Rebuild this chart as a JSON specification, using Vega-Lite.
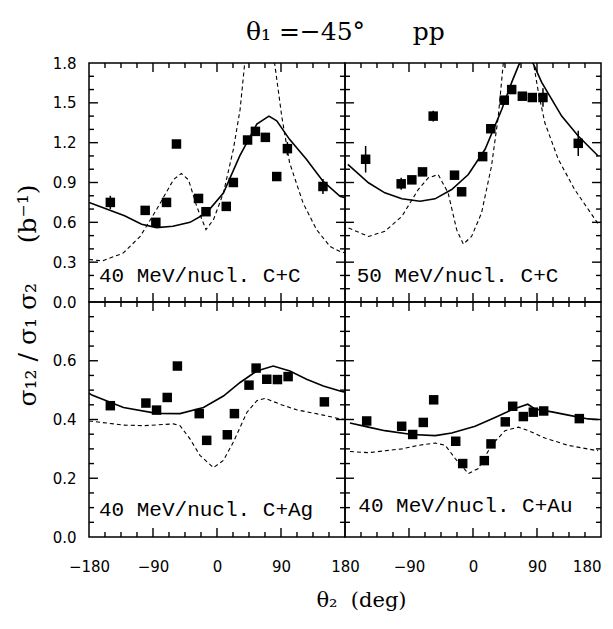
{
  "$schema": "https://vega.github.io/schema/vega-lite/v6.json",
  "padding": {"left": 14, "top": 20, "right": 1, "bottom": 14},
  "background": "white",
  "title": {"text": "θ₁ =−45°\u00a0\u00a0\u00a0\u00a0\u00a0\u00a0pp", "font": "DejaVu Serif", "fontSize": 25, "fontWeight": "normal", "color": "black", "anchor": "middle", "offset": 10, "dx": 37},
  "datasets": {
    "xt": [
      {"t": -157.5, "maj": 0}, {"t": -135, "maj": 0}, {"t": -112.5, "maj": 0}, {"t": -90, "maj": 1},
      {"t": -67.5, "maj": 0}, {"t": -45, "maj": 0}, {"t": -22.5, "maj": 0}, {"t": 0, "maj": 1},
      {"t": 22.5, "maj": 0}, {"t": 45, "maj": 0}, {"t": 67.5, "maj": 0}, {"t": 90, "maj": 1},
      {"t": 112.5, "maj": 0}, {"t": 135, "maj": 0}, {"t": 157.5, "maj": 0}
    ],
    "yt1": [
      {"v": 0.1, "maj": 0}, {"v": 0.2, "maj": 0}, {"v": 0.3, "maj": 1}, {"v": 0.4, "maj": 0}, {"v": 0.5, "maj": 0},
      {"v": 0.6, "maj": 1}, {"v": 0.7, "maj": 0}, {"v": 0.8, "maj": 0}, {"v": 0.9, "maj": 1}, {"v": 1.0, "maj": 0},
      {"v": 1.1, "maj": 0}, {"v": 1.2, "maj": 1}, {"v": 1.3, "maj": 0}, {"v": 1.4, "maj": 0}, {"v": 1.5, "maj": 1},
      {"v": 1.6, "maj": 0}, {"v": 1.7, "maj": 0}
    ],
    "yt2": [
      {"v": 0.05, "maj": 0}, {"v": 0.1, "maj": 0}, {"v": 0.15, "maj": 0}, {"v": 0.2, "maj": 1}, {"v": 0.25, "maj": 0},
      {"v": 0.3, "maj": 0}, {"v": 0.35, "maj": 0}, {"v": 0.4, "maj": 1}, {"v": 0.45, "maj": 0}, {"v": 0.5, "maj": 0},
      {"v": 0.55, "maj": 0}, {"v": 0.6, "maj": 1}, {"v": 0.65, "maj": 0}, {"v": 0.7, "maj": 0}, {"v": 0.75, "maj": 0}
    ],
    "pts": [
      {"p": "A", "t": -150, "v": 0.75, "e": 0.05},
      {"p": "A", "t": -101, "v": 0.69, "e": 0},
      {"p": "A", "t": -86, "v": 0.6, "e": 0},
      {"p": "A", "t": -71, "v": 0.75, "e": 0},
      {"p": "A", "t": -57, "v": 1.19, "e": 0},
      {"p": "A", "t": -26, "v": 0.78, "e": 0},
      {"p": "A", "t": -15.5, "v": 0.68, "e": 0},
      {"p": "A", "t": 13, "v": 0.72, "e": 0},
      {"p": "A", "t": 23, "v": 0.9, "e": 0},
      {"p": "A", "t": 43, "v": 1.22, "e": 0},
      {"p": "A", "t": 54, "v": 1.285, "e": 0},
      {"p": "A", "t": 68, "v": 1.24, "e": 0},
      {"p": "A", "t": 84, "v": 0.945, "e": 0},
      {"p": "A", "t": 99, "v": 1.155, "e": 0.05},
      {"p": "A", "t": 149, "v": 0.87, "e": 0.057},
      {"p": "B", "t": -151, "v": 1.075, "e": 0.1},
      {"p": "B", "t": -101, "v": 0.89, "e": 0.045},
      {"p": "B", "t": -86, "v": 0.92, "e": 0},
      {"p": "B", "t": -71, "v": 0.98, "e": 0},
      {"p": "B", "t": -56, "v": 1.4, "e": 0.04},
      {"p": "B", "t": -26, "v": 0.955, "e": 0},
      {"p": "B", "t": -16, "v": 0.83, "e": 0},
      {"p": "B", "t": 13.6, "v": 1.095, "e": 0},
      {"p": "B", "t": 25, "v": 1.305, "e": 0},
      {"p": "B", "t": 44, "v": 1.52, "e": 0},
      {"p": "B", "t": 54.4, "v": 1.6, "e": 0},
      {"p": "B", "t": 69.4, "v": 1.55, "e": 0},
      {"p": "B", "t": 83.4, "v": 1.54, "e": 0},
      {"p": "B", "t": 98.4, "v": 1.54, "e": 0.07},
      {"p": "B", "t": 148, "v": 1.195, "e": 0.095},
      {"p": "C", "t": -150, "v": 0.447, "e": 0},
      {"p": "C", "t": -100, "v": 0.456, "e": 0},
      {"p": "C", "t": -85, "v": 0.432, "e": 0},
      {"p": "C", "t": -70, "v": 0.475, "e": 0},
      {"p": "C", "t": -55.7, "v": 0.582, "e": 0},
      {"p": "C", "t": -25, "v": 0.42, "e": 0},
      {"p": "C", "t": -14.5, "v": 0.329, "e": 0},
      {"p": "C", "t": 14.5, "v": 0.348, "e": 0},
      {"p": "C", "t": 24.5, "v": 0.42, "e": 0},
      {"p": "C", "t": 45, "v": 0.517, "e": 0},
      {"p": "C", "t": 55, "v": 0.575, "e": 0},
      {"p": "C", "t": 70, "v": 0.537, "e": 0},
      {"p": "C", "t": 85, "v": 0.536, "e": 0},
      {"p": "C", "t": 100, "v": 0.546, "e": 0},
      {"p": "C", "t": 151, "v": 0.46, "e": 0},
      {"p": "D", "t": -149.5, "v": 0.395, "e": 0},
      {"p": "D", "t": -100.3, "v": 0.377, "e": 0},
      {"p": "D", "t": -84.8, "v": 0.349, "e": 0},
      {"p": "D", "t": -69.9, "v": 0.39, "e": 0},
      {"p": "D", "t": -55.3, "v": 0.467, "e": 0},
      {"p": "D", "t": -24.3, "v": 0.326, "e": 0},
      {"p": "D", "t": -14.5, "v": 0.25, "e": 0},
      {"p": "D", "t": 15.9, "v": 0.26, "e": 0},
      {"p": "D", "t": 25.3, "v": 0.317, "e": 0},
      {"p": "D", "t": 45.4, "v": 0.392, "e": 0},
      {"p": "D", "t": 55.8, "v": 0.445, "e": 0},
      {"p": "D", "t": 70.8, "v": 0.41, "e": 0},
      {"p": "D", "t": 84.8, "v": 0.425, "e": 0},
      {"p": "D", "t": 99.4, "v": 0.429, "e": 0},
      {"p": "D", "t": 149.5, "v": 0.403, "e": 0}
    ],
    "curves": [
      {"p": "A", "k": "s", "t": -180, "v": 0.75},
      {"p": "A", "k": "s", "t": -160, "v": 0.71},
      {"p": "A", "k": "s", "t": -130, "v": 0.65},
      {"p": "A", "k": "s", "t": -106, "v": 0.585},
      {"p": "A", "k": "s", "t": -85, "v": 0.56},
      {"p": "A", "k": "s", "t": -62, "v": 0.57},
      {"p": "A", "k": "s", "t": -38, "v": 0.6},
      {"p": "A", "k": "s", "t": -15, "v": 0.67},
      {"p": "A", "k": "s", "t": 9, "v": 0.82},
      {"p": "A", "k": "s", "t": 32, "v": 1.1},
      {"p": "A", "k": "s", "t": 56, "v": 1.34},
      {"p": "A", "k": "s", "t": 73, "v": 1.4},
      {"p": "A", "k": "s", "t": 84, "v": 1.365},
      {"p": "A", "k": "s", "t": 102, "v": 1.225},
      {"p": "A", "k": "s", "t": 126, "v": 1.074},
      {"p": "A", "k": "s", "t": 149, "v": 0.91},
      {"p": "A", "k": "s", "t": 173, "v": 0.796},
      {"p": "A", "k": "s", "t": 180, "v": 0.785},
      {"p": "A", "k": "d", "t": -180, "v": 0.32},
      {"p": "A", "k": "d", "t": -161, "v": 0.31},
      {"p": "A", "k": "d", "t": -132, "v": 0.368},
      {"p": "A", "k": "d", "t": -108, "v": 0.494},
      {"p": "A", "k": "d", "t": -85, "v": 0.696},
      {"p": "A", "k": "d", "t": -61, "v": 0.923},
      {"p": "A", "k": "d", "t": -50, "v": 0.968},
      {"p": "A", "k": "d", "t": -40, "v": 0.92},
      {"p": "A", "k": "d", "t": -28.5, "v": 0.72},
      {"p": "A", "k": "d", "t": -15.5, "v": 0.545},
      {"p": "A", "k": "d", "t": -5, "v": 0.62},
      {"p": "A", "k": "d", "t": 9, "v": 0.82},
      {"p": "A", "k": "d", "t": 23, "v": 1.15},
      {"p": "A", "k": "d", "t": 32.5, "v": 1.45},
      {"p": "A", "k": "d", "t": 39, "v": 1.8},
      {"p": "A", "k": "d", "t": 48, "v": 2.4},
      {"p": "A", "k": "d", "t": 60, "v": 2.8},
      {"p": "A", "k": "d", "t": 72, "v": 2.4},
      {"p": "A", "k": "d", "t": 81, "v": 1.8},
      {"p": "A", "k": "d", "t": 91, "v": 1.4},
      {"p": "A", "k": "d", "t": 102, "v": 1.05},
      {"p": "A", "k": "d", "t": 121, "v": 0.746},
      {"p": "A", "k": "d", "t": 140, "v": 0.545},
      {"p": "A", "k": "d", "t": 159, "v": 0.418},
      {"p": "A", "k": "d", "t": 173, "v": 0.38},
      {"p": "A", "k": "d", "t": 180, "v": 0.37},
      {"p": "B", "k": "s", "t": -176, "v": 1.036},
      {"p": "B", "k": "s", "t": -147, "v": 0.898},
      {"p": "B", "k": "s", "t": -124, "v": 0.822},
      {"p": "B", "k": "s", "t": -100, "v": 0.777},
      {"p": "B", "k": "s", "t": -74.5, "v": 0.759},
      {"p": "B", "k": "s", "t": -53.4, "v": 0.777},
      {"p": "B", "k": "s", "t": -30, "v": 0.847},
      {"p": "B", "k": "s", "t": -6.6, "v": 0.96},
      {"p": "B", "k": "s", "t": 17, "v": 1.15},
      {"p": "B", "k": "s", "t": 40.4, "v": 1.45},
      {"p": "B", "k": "s", "t": 54.4, "v": 1.654},
      {"p": "B", "k": "s", "t": 64, "v": 1.78},
      {"p": "B", "k": "s", "t": 75, "v": 1.9},
      {"p": "B", "k": "s", "t": 86, "v": 1.78},
      {"p": "B", "k": "s", "t": 96.6, "v": 1.654},
      {"p": "B", "k": "s", "t": 124.7, "v": 1.4},
      {"p": "B", "k": "s", "t": 148, "v": 1.25},
      {"p": "B", "k": "s", "t": 176, "v": 1.1},
      {"p": "B", "k": "d", "t": -175, "v": 0.557},
      {"p": "B", "k": "d", "t": -147, "v": 0.494},
      {"p": "B", "k": "d", "t": -124, "v": 0.532},
      {"p": "B", "k": "d", "t": -100, "v": 0.645},
      {"p": "B", "k": "d", "t": -77, "v": 0.847},
      {"p": "B", "k": "d", "t": -63, "v": 0.935},
      {"p": "B", "k": "d", "t": -49, "v": 0.96},
      {"p": "B", "k": "d", "t": -35, "v": 0.822},
      {"p": "B", "k": "d", "t": -23, "v": 0.545},
      {"p": "B", "k": "d", "t": -13.6, "v": 0.436},
      {"p": "B", "k": "d", "t": -2, "v": 0.494},
      {"p": "B", "k": "d", "t": 12, "v": 0.67},
      {"p": "B", "k": "d", "t": 26, "v": 1.023},
      {"p": "B", "k": "d", "t": 35.6, "v": 1.4},
      {"p": "B", "k": "d", "t": 42.6, "v": 1.8},
      {"p": "B", "k": "d", "t": 52, "v": 2.3},
      {"p": "B", "k": "d", "t": 63, "v": 2.5},
      {"p": "B", "k": "d", "t": 75, "v": 2.3},
      {"p": "B", "k": "d", "t": 85, "v": 1.8},
      {"p": "B", "k": "d", "t": 92, "v": 1.578},
      {"p": "B", "k": "d", "t": 101, "v": 1.35},
      {"p": "B", "k": "d", "t": 120, "v": 1.074},
      {"p": "B", "k": "d", "t": 143, "v": 0.847},
      {"p": "B", "k": "d", "t": 172, "v": 0.62},
      {"p": "B", "k": "d", "t": 177, "v": 0.58},
      {"p": "C", "k": "s", "t": -180, "v": 0.49},
      {"p": "C", "k": "s", "t": -176, "v": 0.483},
      {"p": "C", "k": "s", "t": -131.5, "v": 0.441},
      {"p": "C", "k": "s", "t": -85, "v": 0.421},
      {"p": "C", "k": "s", "t": -52, "v": 0.42},
      {"p": "C", "k": "s", "t": -19, "v": 0.441},
      {"p": "C", "k": "s", "t": 9, "v": 0.48},
      {"p": "C", "k": "s", "t": 32.5, "v": 0.526},
      {"p": "C", "k": "s", "t": 56, "v": 0.565},
      {"p": "C", "k": "s", "t": 79, "v": 0.582},
      {"p": "C", "k": "s", "t": 102.5, "v": 0.565},
      {"p": "C", "k": "s", "t": 126, "v": 0.537},
      {"p": "C", "k": "s", "t": 149.5, "v": 0.514},
      {"p": "C", "k": "s", "t": 173, "v": 0.497},
      {"p": "C", "k": "s", "t": 180, "v": 0.493},
      {"p": "C", "k": "d", "t": -180, "v": 0.395},
      {"p": "C", "k": "d", "t": -176, "v": 0.394},
      {"p": "C", "k": "d", "t": -131.5, "v": 0.381},
      {"p": "C", "k": "d", "t": -103.5, "v": 0.379},
      {"p": "C", "k": "d", "t": -61, "v": 0.385},
      {"p": "C", "k": "d", "t": -52, "v": 0.379},
      {"p": "C", "k": "d", "t": -38, "v": 0.334},
      {"p": "C", "k": "d", "t": -24, "v": 0.278},
      {"p": "C", "k": "d", "t": -5, "v": 0.236},
      {"p": "C", "k": "d", "t": 9, "v": 0.261},
      {"p": "C", "k": "d", "t": 23, "v": 0.323},
      {"p": "C", "k": "d", "t": 42, "v": 0.424},
      {"p": "C", "k": "d", "t": 56, "v": 0.464},
      {"p": "C", "k": "d", "t": 67.5, "v": 0.472},
      {"p": "C", "k": "d", "t": 88.7, "v": 0.452},
      {"p": "C", "k": "d", "t": 112, "v": 0.433},
      {"p": "C", "k": "d", "t": 149.5, "v": 0.415},
      {"p": "C", "k": "d", "t": 173, "v": 0.402},
      {"p": "C", "k": "d", "t": 180, "v": 0.4},
      {"p": "D", "k": "s", "t": -173, "v": 0.388},
      {"p": "D", "k": "s", "t": -147, "v": 0.374},
      {"p": "D", "k": "s", "t": -124, "v": 0.362},
      {"p": "D", "k": "s", "t": -86, "v": 0.349},
      {"p": "D", "k": "s", "t": -53, "v": 0.345},
      {"p": "D", "k": "s", "t": -30, "v": 0.354},
      {"p": "D", "k": "s", "t": 3, "v": 0.377},
      {"p": "D", "k": "s", "t": 31, "v": 0.407},
      {"p": "D", "k": "s", "t": 54.4, "v": 0.433},
      {"p": "D", "k": "s", "t": 77, "v": 0.452},
      {"p": "D", "k": "s", "t": 87, "v": 0.436},
      {"p": "D", "k": "s", "t": 111, "v": 0.426},
      {"p": "D", "k": "s", "t": 134, "v": 0.415},
      {"p": "D", "k": "s", "t": 162, "v": 0.402},
      {"p": "D", "k": "s", "t": 176, "v": 0.4},
      {"p": "D", "k": "d", "t": -173, "v": 0.291},
      {"p": "D", "k": "d", "t": -147, "v": 0.287},
      {"p": "D", "k": "d", "t": -100, "v": 0.3},
      {"p": "D", "k": "d", "t": -77, "v": 0.312},
      {"p": "D", "k": "d", "t": -53, "v": 0.32},
      {"p": "D", "k": "d", "t": -39, "v": 0.312},
      {"p": "D", "k": "d", "t": -25, "v": 0.267},
      {"p": "D", "k": "d", "t": -6.6, "v": 0.216},
      {"p": "D", "k": "d", "t": 7.5, "v": 0.233},
      {"p": "D", "k": "d", "t": 26, "v": 0.312},
      {"p": "D", "k": "d", "t": 45, "v": 0.362},
      {"p": "D", "k": "d", "t": 64, "v": 0.374},
      {"p": "D", "k": "d", "t": 78, "v": 0.362},
      {"p": "D", "k": "d", "t": 101, "v": 0.337},
      {"p": "D", "k": "d", "t": 134, "v": 0.312},
      {"p": "D", "k": "d", "t": 172, "v": 0.295},
      {"p": "D", "k": "d", "t": 176, "v": 0.294}
    ]
  },
  "columns": 2,
  "spacing": 0,
  "bounds": "flush",
  "concat": [
    {
      "width": 256, "height": 239,
      "resolve": {"axis": {"x": "independent", "y": "independent"}},
      "layer": [
        {"data": {"name": "curves"}, "transform": [{"filter": "datum.p == 'A' && datum.k == 's'"}],
          "mark": {"type": "line", "color": "black", "strokeWidth": 1.6, "clip": true},
          "encoding": {"x": {"field": "t", "type": "quantitative", "scale": {"domain": [-180, 180], "nice": false, "zero": false}, "axis": null},
            "y": {"field": "v", "type": "quantitative", "scale": {"domain": [0, 1.8], "nice": false, "zero": false}, "axis": null}}},
        {"data": {"name": "curves"}, "transform": [{"filter": "datum.p == 'A' && datum.k == 'd'"}],
          "mark": {"type": "line", "color": "black", "strokeWidth": 1.1, "strokeDash": [4, 3], "clip": true},
          "encoding": {"x": {"field": "t", "type": "quantitative", "axis": null}, "y": {"field": "v", "type": "quantitative", "axis": null}}},
        {"data": {"name": "yt1"}, "transform": [{"filter": "datum.maj == 0"}], "mark": {"type": "rule", "color": "black", "strokeWidth": 1.4},
          "encoding": {"x": {"datum": -180, "type": "quantitative", "axis": null}, "x2": {"datum": -173}, "y": {"field": "v", "type": "quantitative", "axis": null}}},
        {"data": {"name": "yt1"}, "transform": [{"filter": "datum.maj == 1"}], "mark": {"type": "rule", "color": "black", "strokeWidth": 1.4},
          "encoding": {"x": {"datum": -180, "type": "quantitative", "axis": null}, "x2": {"datum": -167.4}, "y": {"field": "v", "type": "quantitative", "axis": null}}},
        {"data": {"name": "yt1"}, "transform": [{"filter": "datum.maj == 0"}], "mark": {"type": "rule", "color": "black", "strokeWidth": 1.4},
          "encoding": {"x": {"datum": 180, "type": "quantitative", "axis": null}, "x2": {"datum": 173}, "y": {"field": "v", "type": "quantitative", "axis": null}}},
        {"data": {"name": "yt1"}, "transform": [{"filter": "datum.maj == 1"}], "mark": {"type": "rule", "color": "black", "strokeWidth": 1.4},
          "encoding": {"x": {"datum": 180, "type": "quantitative", "axis": null}, "x2": {"datum": 167.4}, "y": {"field": "v", "type": "quantitative", "axis": null}}},
        {"data": {"name": "xt"}, "transform": [{"filter": "datum.maj == 0"}], "mark": {"type": "rule", "color": "black", "strokeWidth": 1.4},
          "encoding": {"x": {"field": "t", "type": "quantitative", "axis": null}, "y": {"datum": 1.8, "type": "quantitative", "axis": null}, "y2": {"datum": 1.762}}},
        {"data": {"name": "xt"}, "transform": [{"filter": "datum.maj == 1"}], "mark": {"type": "rule", "color": "black", "strokeWidth": 1.4},
          "encoding": {"x": {"field": "t", "type": "quantitative", "axis": null}, "y": {"datum": 1.8, "type": "quantitative", "axis": null}, "y2": {"datum": 1.732}}},
        {"data": {"name": "xt"}, "transform": [{"filter": "datum.maj == 0"}], "mark": {"type": "rule", "color": "black", "strokeWidth": 1.4},
          "encoding": {"x": {"field": "t", "type": "quantitative", "axis": null}, "y": {"datum": 0, "type": "quantitative", "axis": null}, "y2": {"datum": 0.038}}},
        {"data": {"name": "xt"}, "transform": [{"filter": "datum.maj == 1"}], "mark": {"type": "rule", "color": "black", "strokeWidth": 1.4},
          "encoding": {"x": {"field": "t", "type": "quantitative", "axis": null}, "y": {"datum": 0, "type": "quantitative", "axis": null}, "y2": {"datum": 0.068}}},
        {"data": {"name": "pts"}, "transform": [{"filter": "datum.p == 'A' && datum.e > 0"}],
          "mark": {"type": "errorbar", "color": "black", "thickness": 1.5},
          "encoding": {"x": {"field": "t", "type": "quantitative", "axis": null}, "y": {"field": "v", "type": "quantitative", "axis": null}, "yError": {"field": "e"}}},
        {"data": {"name": "pts"}, "transform": [{"filter": "datum.p == 'A'"}],
          "mark": {"type": "square", "size": 90, "color": "black", "opacity": 1},
          "encoding": {"x": {"field": "t", "type": "quantitative", "axis": null},
            "y": {"field": "v", "type": "quantitative",
              "axis": {"orient": "left", "values": [0, 0.3, 0.6, 0.9, 1.2, 1.5, 1.8], "format": ".1f", "labelPadding": 13,
                "title": "σ₁₂\u00a0/\u00a0σ₁\u00a0σ₂\u00a0\u00a0\u00a0\u00a0\u00a0(b⁻¹)", "titleFont": "DejaVu Serif", "titleFontSize": 25, "titleFontWeight": "normal", "titleX": -62, "titleY": 232, "titleAngle": -90, "titleAlign": "center", "titleBaseline": "middle"}}}},
        {"data": {"values": [{}]},
          "mark": {"type": "text", "align": "left", "baseline": "alphabetic", "font": "Liberation Mono", "fontSize": 21, "color": "black"},
          "encoding": {"x": {"datum": -166, "type": "quantitative", "axis": null}, "y": {"datum": 0.15, "type": "quantitative", "axis": null}, "text": {"value": "40 MeV/nucl. C+C"}}}
      ]
    },
    {
      "width": 256, "height": 239,
      "resolve": {"axis": {"x": "independent", "y": "independent"}},
      "layer": [
        {"data": {"name": "curves"}, "transform": [{"filter": "datum.p == 'B' && datum.k == 's'"}],
          "mark": {"type": "line", "color": "black", "strokeWidth": 1.6, "clip": true},
          "encoding": {"x": {"field": "t", "type": "quantitative", "scale": {"domain": [-180, 180], "nice": false, "zero": false}, "axis": null},
            "y": {"field": "v", "type": "quantitative", "scale": {"domain": [0, 1.8], "nice": false, "zero": false}, "axis": null}}},
        {"data": {"name": "curves"}, "transform": [{"filter": "datum.p == 'B' && datum.k == 'd'"}],
          "mark": {"type": "line", "color": "black", "strokeWidth": 1.1, "strokeDash": [4, 3], "clip": true},
          "encoding": {"x": {"field": "t", "type": "quantitative", "axis": null}, "y": {"field": "v", "type": "quantitative", "axis": null}}},
        {"data": {"name": "yt1"}, "transform": [{"filter": "datum.maj == 0"}], "mark": {"type": "rule", "color": "black", "strokeWidth": 1.4},
          "encoding": {"x": {"datum": -180, "type": "quantitative", "axis": null}, "x2": {"datum": -173}, "y": {"field": "v", "type": "quantitative", "axis": null}}},
        {"data": {"name": "yt1"}, "transform": [{"filter": "datum.maj == 1"}], "mark": {"type": "rule", "color": "black", "strokeWidth": 1.4},
          "encoding": {"x": {"datum": -180, "type": "quantitative", "axis": null}, "x2": {"datum": -167.4}, "y": {"field": "v", "type": "quantitative", "axis": null}}},
        {"data": {"name": "yt1"}, "transform": [{"filter": "datum.maj == 0"}], "mark": {"type": "rule", "color": "black", "strokeWidth": 1.4},
          "encoding": {"x": {"datum": 180, "type": "quantitative", "axis": null}, "x2": {"datum": 173}, "y": {"field": "v", "type": "quantitative", "axis": null}}},
        {"data": {"name": "yt1"}, "transform": [{"filter": "datum.maj == 1"}], "mark": {"type": "rule", "color": "black", "strokeWidth": 1.4},
          "encoding": {"x": {"datum": 180, "type": "quantitative", "axis": null}, "x2": {"datum": 167.4}, "y": {"field": "v", "type": "quantitative", "axis": null}}},
        {"data": {"name": "xt"}, "transform": [{"filter": "datum.maj == 0"}], "mark": {"type": "rule", "color": "black", "strokeWidth": 1.4},
          "encoding": {"x": {"field": "t", "type": "quantitative", "axis": null}, "y": {"datum": 1.8, "type": "quantitative", "axis": null}, "y2": {"datum": 1.762}}},
        {"data": {"name": "xt"}, "transform": [{"filter": "datum.maj == 1"}], "mark": {"type": "rule", "color": "black", "strokeWidth": 1.4},
          "encoding": {"x": {"field": "t", "type": "quantitative", "axis": null}, "y": {"datum": 1.8, "type": "quantitative", "axis": null}, "y2": {"datum": 1.732}}},
        {"data": {"name": "xt"}, "transform": [{"filter": "datum.maj == 0"}], "mark": {"type": "rule", "color": "black", "strokeWidth": 1.4},
          "encoding": {"x": {"field": "t", "type": "quantitative", "axis": null}, "y": {"datum": 0, "type": "quantitative", "axis": null}, "y2": {"datum": 0.038}}},
        {"data": {"name": "xt"}, "transform": [{"filter": "datum.maj == 1"}], "mark": {"type": "rule", "color": "black", "strokeWidth": 1.4},
          "encoding": {"x": {"field": "t", "type": "quantitative", "axis": null}, "y": {"datum": 0, "type": "quantitative", "axis": null}, "y2": {"datum": 0.068}}},
        {"data": {"name": "pts"}, "transform": [{"filter": "datum.p == 'B' && datum.e > 0"}],
          "mark": {"type": "errorbar", "color": "black", "thickness": 1.5},
          "encoding": {"x": {"field": "t", "type": "quantitative", "axis": null}, "y": {"field": "v", "type": "quantitative", "axis": null}, "yError": {"field": "e"}}},
        {"data": {"name": "pts"}, "transform": [{"filter": "datum.p == 'B'"}],
          "mark": {"type": "square", "size": 90, "color": "black", "opacity": 1},
          "encoding": {"x": {"field": "t", "type": "quantitative", "axis": null}, "y": {"field": "v", "type": "quantitative", "axis": null}}},
        {"data": {"values": [{}]},
          "mark": {"type": "text", "align": "left", "baseline": "alphabetic", "font": "Liberation Mono", "fontSize": 21, "color": "black"},
          "encoding": {"x": {"datum": -163.5, "type": "quantitative", "axis": null}, "y": {"datum": 0.154, "type": "quantitative", "axis": null}, "text": {"value": "50 MeV/nucl. C+C"}}}
      ]
    },
    {
      "width": 256, "height": 235,
      "resolve": {"axis": {"x": "independent", "y": "independent"}},
      "layer": [
        {"data": {"name": "curves"}, "transform": [{"filter": "datum.p == 'C' && datum.k == 's'"}],
          "mark": {"type": "line", "color": "black", "strokeWidth": 1.6, "clip": true},
          "encoding": {"x": {"field": "t", "type": "quantitative", "scale": {"domain": [-180, 180], "nice": false, "zero": false}, "axis": null},
            "y": {"field": "v", "type": "quantitative", "scale": {"domain": [0, 0.8], "nice": false, "zero": false}, "axis": null}}},
        {"data": {"name": "curves"}, "transform": [{"filter": "datum.p == 'C' && datum.k == 'd'"}],
          "mark": {"type": "line", "color": "black", "strokeWidth": 1.1, "strokeDash": [4, 3], "clip": true},
          "encoding": {"x": {"field": "t", "type": "quantitative", "axis": null}, "y": {"field": "v", "type": "quantitative", "axis": null}}},
        {"data": {"name": "yt2"}, "transform": [{"filter": "datum.maj == 0"}], "mark": {"type": "rule", "color": "black", "strokeWidth": 1.4},
          "encoding": {"x": {"datum": -180, "type": "quantitative", "axis": null}, "x2": {"datum": -173}, "y": {"field": "v", "type": "quantitative", "axis": null}}},
        {"data": {"name": "yt2"}, "transform": [{"filter": "datum.maj == 1"}], "mark": {"type": "rule", "color": "black", "strokeWidth": 1.4},
          "encoding": {"x": {"datum": -180, "type": "quantitative", "axis": null}, "x2": {"datum": -167.4}, "y": {"field": "v", "type": "quantitative", "axis": null}}},
        {"data": {"name": "yt2"}, "transform": [{"filter": "datum.maj == 0"}], "mark": {"type": "rule", "color": "black", "strokeWidth": 1.4},
          "encoding": {"x": {"datum": 180, "type": "quantitative", "axis": null}, "x2": {"datum": 173}, "y": {"field": "v", "type": "quantitative", "axis": null}}},
        {"data": {"name": "yt2"}, "transform": [{"filter": "datum.maj == 1"}], "mark": {"type": "rule", "color": "black", "strokeWidth": 1.4},
          "encoding": {"x": {"datum": 180, "type": "quantitative", "axis": null}, "x2": {"datum": 167.4}, "y": {"field": "v", "type": "quantitative", "axis": null}}},
        {"data": {"name": "xt"}, "transform": [{"filter": "datum.maj == 0"}], "mark": {"type": "rule", "color": "black", "strokeWidth": 1.4},
          "encoding": {"x": {"field": "t", "type": "quantitative", "axis": null}, "y": {"datum": 0.8, "type": "quantitative", "axis": null}, "y2": {"datum": 0.783}}},
        {"data": {"name": "xt"}, "transform": [{"filter": "datum.maj == 1"}], "mark": {"type": "rule", "color": "black", "strokeWidth": 1.4},
          "encoding": {"x": {"field": "t", "type": "quantitative", "axis": null}, "y": {"datum": 0.8, "type": "quantitative", "axis": null}, "y2": {"datum": 0.769}}},
        {"data": {"name": "xt"}, "transform": [{"filter": "datum.maj == 0"}], "mark": {"type": "rule", "color": "black", "strokeWidth": 1.4},
          "encoding": {"x": {"field": "t", "type": "quantitative", "axis": null}, "y": {"datum": 0, "type": "quantitative", "axis": null}, "y2": {"datum": 0.017}}},
        {"data": {"name": "xt"}, "transform": [{"filter": "datum.maj == 1"}], "mark": {"type": "rule", "color": "black", "strokeWidth": 1.4},
          "encoding": {"x": {"field": "t", "type": "quantitative", "axis": null}, "y": {"datum": 0, "type": "quantitative", "axis": null}, "y2": {"datum": 0.031}}},
        {"data": {"name": "pts"}, "transform": [{"filter": "datum.p == 'C'"}],
          "mark": {"type": "square", "size": 90, "color": "black", "opacity": 1},
          "encoding": {
            "x": {"field": "t", "type": "quantitative",
              "axis": {"orient": "bottom", "values": [-180, -90, 0, 90, 180], "format": "d", "labelPadding": 22, "labelFlush": false,
                "title": "θ₂\u00a0\u00a0(deg)", "titleFont": "DejaVu Serif", "titleFontSize": 21, "titleFontWeight": "normal", "titleX": 272, "titleY": 69, "titleAlign": "center", "titleBaseline": "alphabetic"}},
            "y": {"field": "v", "type": "quantitative",
              "axis": {"orient": "left", "values": [0, 0.2, 0.4, 0.6], "format": ".1f", "labelPadding": 13, "title": null}}}},
        {"data": {"values": [{}]},
          "mark": {"type": "text", "align": "left", "baseline": "alphabetic", "font": "Liberation Mono", "fontSize": 21, "color": "black"},
          "encoding": {"x": {"datum": -166, "type": "quantitative", "axis": null}, "y": {"datum": 0.072, "type": "quantitative", "axis": null}, "text": {"value": "40 MeV/nucl. C+Ag"}}}
      ]
    },
    {
      "width": 256, "height": 235,
      "resolve": {"axis": {"x": "independent", "y": "independent"}},
      "layer": [
        {"data": {"name": "curves"}, "transform": [{"filter": "datum.p == 'D' && datum.k == 's'"}],
          "mark": {"type": "line", "color": "black", "strokeWidth": 1.6, "clip": true},
          "encoding": {"x": {"field": "t", "type": "quantitative", "scale": {"domain": [-180, 180], "nice": false, "zero": false}, "axis": null},
            "y": {"field": "v", "type": "quantitative", "scale": {"domain": [0, 0.8], "nice": false, "zero": false}, "axis": null}}},
        {"data": {"name": "curves"}, "transform": [{"filter": "datum.p == 'D' && datum.k == 'd'"}],
          "mark": {"type": "line", "color": "black", "strokeWidth": 1.1, "strokeDash": [4, 3], "clip": true},
          "encoding": {"x": {"field": "t", "type": "quantitative", "axis": null}, "y": {"field": "v", "type": "quantitative", "axis": null}}},
        {"data": {"name": "yt2"}, "transform": [{"filter": "datum.maj == 0"}], "mark": {"type": "rule", "color": "black", "strokeWidth": 1.4},
          "encoding": {"x": {"datum": -180, "type": "quantitative", "axis": null}, "x2": {"datum": -173}, "y": {"field": "v", "type": "quantitative", "axis": null}}},
        {"data": {"name": "yt2"}, "transform": [{"filter": "datum.maj == 1"}], "mark": {"type": "rule", "color": "black", "strokeWidth": 1.4},
          "encoding": {"x": {"datum": -180, "type": "quantitative", "axis": null}, "x2": {"datum": -167.4}, "y": {"field": "v", "type": "quantitative", "axis": null}}},
        {"data": {"name": "yt2"}, "transform": [{"filter": "datum.maj == 0"}], "mark": {"type": "rule", "color": "black", "strokeWidth": 1.4},
          "encoding": {"x": {"datum": 180, "type": "quantitative", "axis": null}, "x2": {"datum": 173}, "y": {"field": "v", "type": "quantitative", "axis": null}}},
        {"data": {"name": "yt2"}, "transform": [{"filter": "datum.maj == 1"}], "mark": {"type": "rule", "color": "black", "strokeWidth": 1.4},
          "encoding": {"x": {"datum": 180, "type": "quantitative", "axis": null}, "x2": {"datum": 167.4}, "y": {"field": "v", "type": "quantitative", "axis": null}}},
        {"data": {"name": "xt"}, "transform": [{"filter": "datum.maj == 0"}], "mark": {"type": "rule", "color": "black", "strokeWidth": 1.4},
          "encoding": {"x": {"field": "t", "type": "quantitative", "axis": null}, "y": {"datum": 0.8, "type": "quantitative", "axis": null}, "y2": {"datum": 0.783}}},
        {"data": {"name": "xt"}, "transform": [{"filter": "datum.maj == 1"}], "mark": {"type": "rule", "color": "black", "strokeWidth": 1.4},
          "encoding": {"x": {"field": "t", "type": "quantitative", "axis": null}, "y": {"datum": 0.8, "type": "quantitative", "axis": null}, "y2": {"datum": 0.769}}},
        {"data": {"name": "xt"}, "transform": [{"filter": "datum.maj == 0"}], "mark": {"type": "rule", "color": "black", "strokeWidth": 1.4},
          "encoding": {"x": {"field": "t", "type": "quantitative", "axis": null}, "y": {"datum": 0, "type": "quantitative", "axis": null}, "y2": {"datum": 0.017}}},
        {"data": {"name": "xt"}, "transform": [{"filter": "datum.maj == 1"}], "mark": {"type": "rule", "color": "black", "strokeWidth": 1.4},
          "encoding": {"x": {"field": "t", "type": "quantitative", "axis": null}, "y": {"datum": 0, "type": "quantitative", "axis": null}, "y2": {"datum": 0.031}}},
        {"data": {"name": "pts"}, "transform": [{"filter": "datum.p == 'D'"}],
          "mark": {"type": "square", "size": 90, "color": "black", "opacity": 1},
          "encoding": {
            "x": {"field": "t", "type": "quantitative",
              "axis": {"orient": "bottom", "values": [-90, 0, 90, 180], "format": "d", "labelPadding": 22, "labelFlush": true, "title": null}},
            "y": {"field": "v", "type": "quantitative", "axis": null}}},
        {"data": {"values": [{}]},
          "mark": {"type": "text", "align": "left", "baseline": "alphabetic", "font": "Liberation Mono", "fontSize": 21, "color": "black"},
          "encoding": {"x": {"datum": -161.3, "type": "quantitative", "axis": null}, "y": {"datum": 0.084, "type": "quantitative", "axis": null}, "text": {"value": "40 MeV/nucl. C+Au"}}}
      ]
    }
  ],
  "config": {
    "view": {"stroke": "black", "strokeWidth": 1.5},
    "axis": {"domain": false, "ticks": false, "tickSize": 0, "grid": false, "labelColor": "black", "labelFont": "DejaVu Sans", "labelFontSize": 15, "titleColor": "black"}
  }
}
